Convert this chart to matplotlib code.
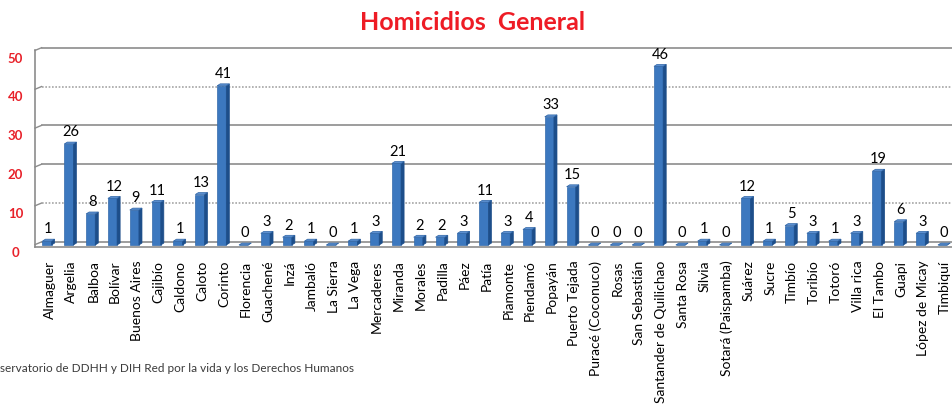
import numpy as np
import matplotlib.pyplot as plt
from matplotlib.patches import Polygon
from matplotlib.transforms import blended_transform_factory

municipios = ["Almaguer", "Argelia", "Balboa", "Bolívar", "Buenos Aires", "Cajibío",
              "Caldono", "Caloto", "Corinto", "Florencia", "Guachené", "Inzá",
              "Jambaló", "La Sierra", "La Vega", "Mercaderes", "Miranda", "Morales",
              "Padilla", "Páez", "Patía", "Piamonte", "Piendamó", "Popayán",
              "Puerto Tejada", "Puracé (Coconuco)", "Rosas", "San Sebastián",
              "Santander de Quilichao", "Santa Rosa", "Silvia", "Sotará (Paispamba)",
              "Suárez", "Sucre", "Timbío", "Toribío", "Totoró", "Villa rica",
              "El Tambo", "Guapi", "López de Micay", "Timbiquí"]
homicidios = [1, 26, 8, 12, 9, 11, 1, 13, 41, 0, 3, 2, 1, 0, 1, 3, 21, 2, 2, 3, 11,
              3, 4, 33, 15, 0, 0, 0, 46, 0, 1, 0, 12, 1, 5, 3, 1, 3, 19, 6, 3, 0]
yticks = [0, 10, 20, 30, 40, 50]

plt.rcParams['font.family'] = ['Lato', 'DejaVu Sans']

fig = plt.figure(figsize=(9.53, 4.04), dpi=100)
ax = fig.add_axes([35 / 953, 1 - 247 / 404, 918 / 953, 202 / 404])
xmin, xmax = -0.618, 41.41
ymin, ymax = -0.515, 51.5
ax.set_xlim(xmin, xmax)
ax.set_ylim(ymin, ymax)
ax.axis('off')

# back wall gridlines (shifted a bit for the 3d look)
back = 0.8
for v in yticks:
    ls = (0, (1, 1)) if v in (10, 40) else '-'
    col = '#a5a5a5' if v in (10, 40) else '#8c8c8c'
    ax.plot([xmin + 0.3, xmax], [v + back, v + back], color=col, lw=1.2, ls=ls,
            clip_on=False, zorder=1)
    ax.plot([xmin, xmin + 0.3], [v + 0.1, v + back], color='#8c8c8c', lw=1.0,
            clip_on=False, zorder=1)
ax.plot([xmin, xmin], [ymin, 50.1], color='#8c8c8c', lw=1.2, clip_on=False, zorder=1)
ax.plot([xmin, xmax], [ymin + 0.1, ymin + 0.1], color='#8c8c8c', lw=1.2,
        clip_on=False, zorder=1)

# 3d-ish bars
w, d, dy = 0.42, 0.14, 0.5
for i, v in enumerate(homicidios):
    x0 = i - (w + d) / 2
    x1 = x0 + w
    ax.add_patch(Polygon([(x0, 0), (x1, 0), (x1, v), (x0, v)], closed=True,
                         facecolor='#3c78bf', edgecolor='#336aab', lw=0.5, zorder=3))
    ax.add_patch(Polygon([(x1, 0), (x1 + d, dy), (x1 + d, v + dy), (x1, v)], closed=True,
                         facecolor='#1d4e8a', edgecolor='#1d4e8a', lw=0.5, zorder=3))
    ax.add_patch(Polygon([(x0, v), (x1, v), (x1 + d, v + dy), (x0 + d, v + dy)],
                         closed=True, facecolor='#5b8fd0', edgecolor='#2f65a6',
                         lw=0.5, zorder=4))
    ax.annotate(str(v), (i, v + dy), xytext=(0, 2), textcoords='offset points',
                ha='center', va='bottom', fontsize=10.5, color='black', zorder=5)
    ax.text(i + 0.05, -4.0, municipios[i], rotation=90, ha='center', va='top',
            fontsize=10, color='black', clip_on=False)

# y tick labels
tr = blended_transform_factory(ax.transAxes, ax.transData)
for v in yticks:
    ax.text(-0.0212, v - 2.0, str(v), transform=tr, ha='center', va='center',
            fontsize=9.5, fontweight='bold', color='#e8212a')

fig.text(473 / 953, 1 - 23 / 404, 'Homicidios  General', ha='center', va='center',
         fontsize=18, fontweight='bold', color='#ee1c25')
fig.text(0.5 / 953, 1 - 368 / 404,
         'servatorio de DDHH y DIH Red por la vida y los Derechos Humanos',
         ha='left', va='center', fontsize=8.5, color='#3a3a3a')

fig.savefig('out.png', dpi=100)
